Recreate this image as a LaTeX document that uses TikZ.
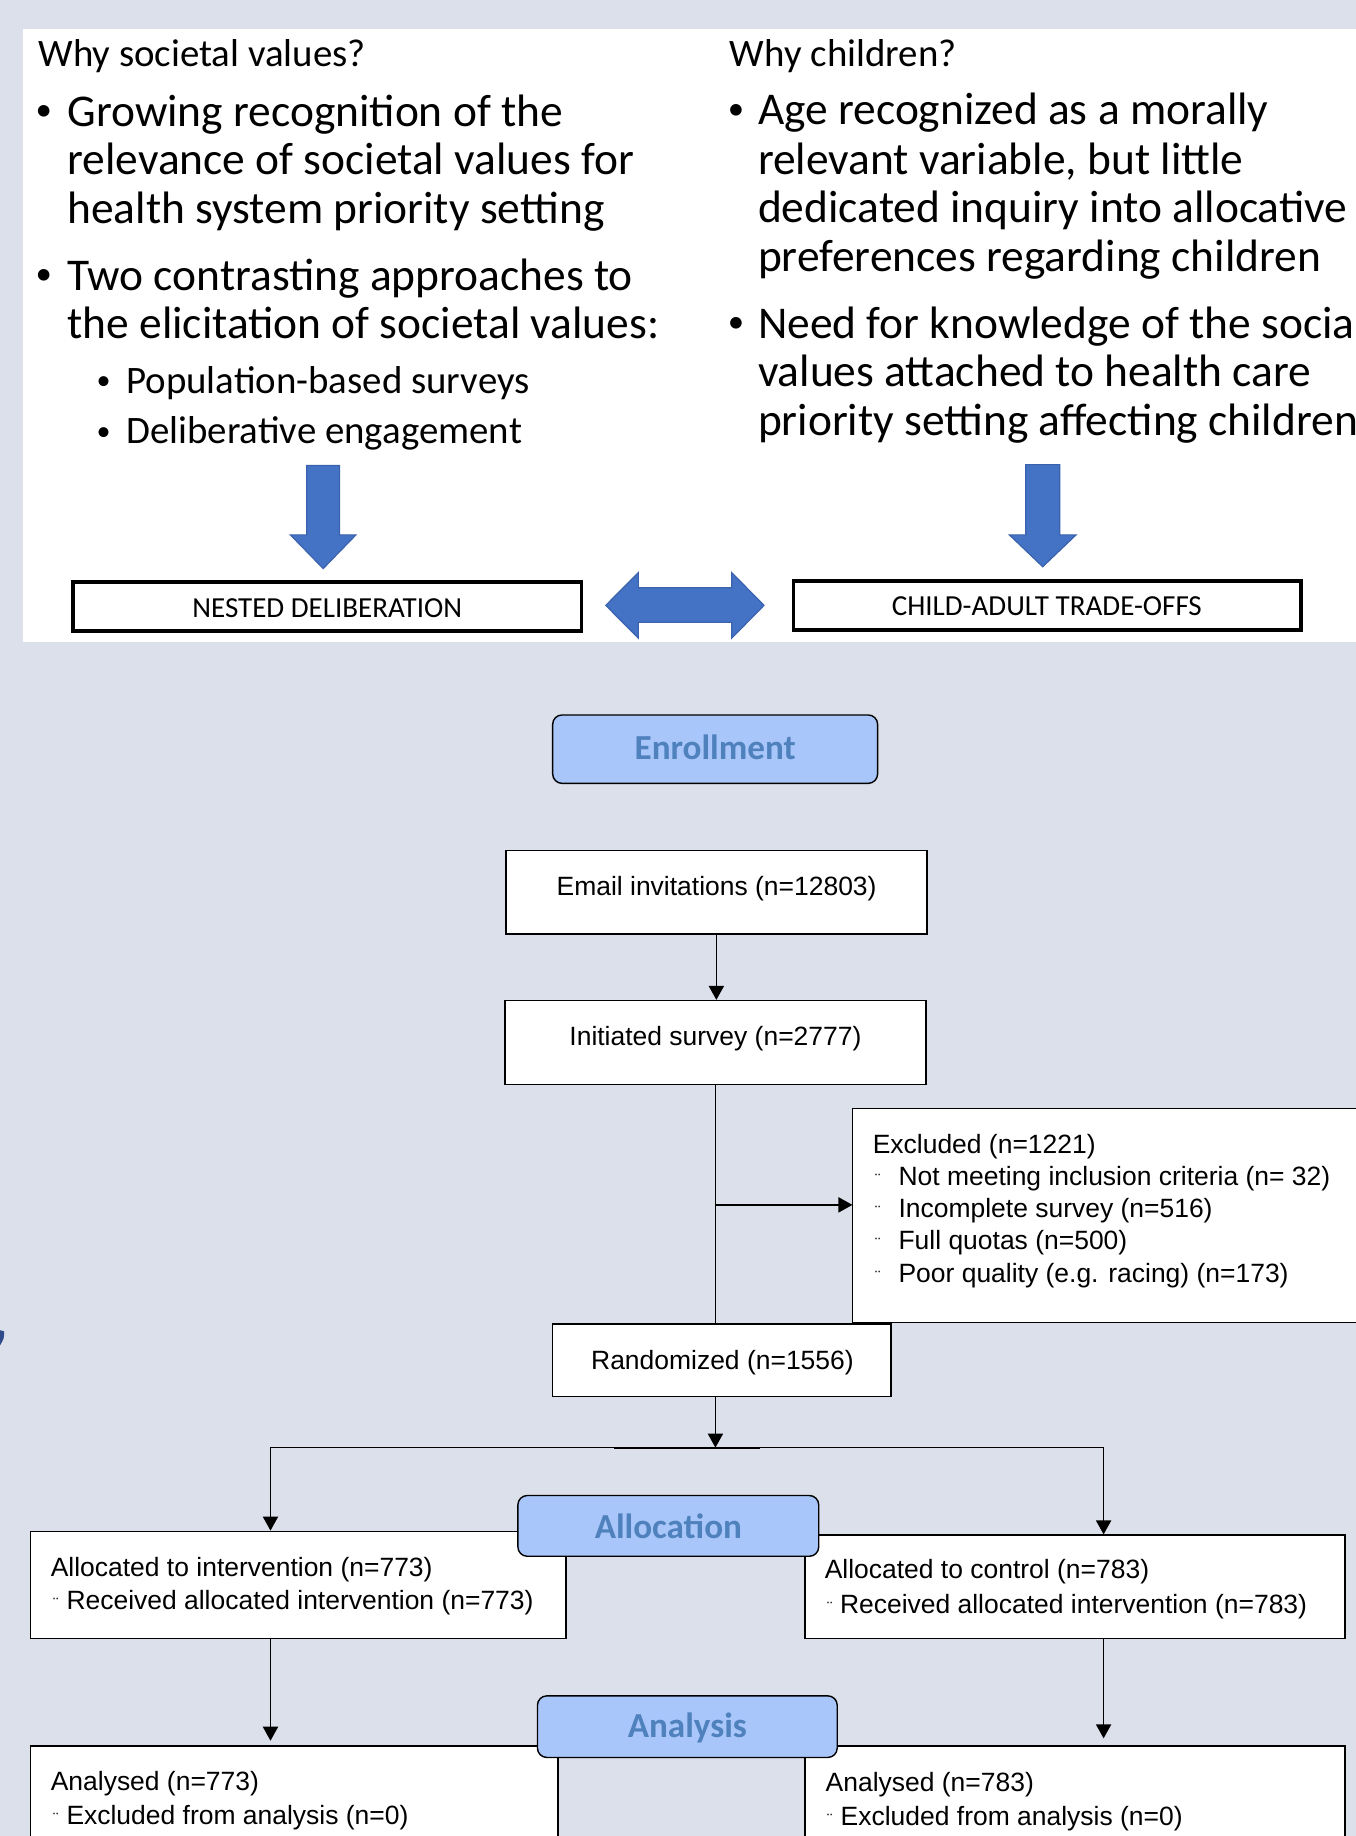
\documentclass[tikz,border=0pt]{standalone}
\usepackage{fontspec}
\setmainfont{Liberation Sans}
\newfontfamily\calfont{Carlito}
\usetikzlibrary{arrows.meta,fit}
\definecolor{bg}{RGB}{220,224,234}
\definecolor{lblfill}{RGB}{168,198,250}
\definecolor{lbltext}{RGB}{79,129,189}
\definecolor{arrblue}{RGB}{68,114,196}
\definecolor{arredge}{RGB}{58,98,173}
\definecolor{markblue}{RGB}{47,75,140}
\begin{document}
\begin{tikzpicture}[x=0.5pt,y=-0.5pt,
  bx/.style={draw=black, line width=0.6pt, fill=white, inner sep=0pt},
  tbx/.style={draw=black, line width=1.5pt, fill=white, inner sep=0pt},
  lbl/.style={draw=black, line width=0.6pt, fill=lblfill, rounded corners=4pt, inner sep=0pt},
  lbltxt/.style={font=\calfont\bfseries\fontsize{15}{18}\selectfont, text=lbltext, anchor=base, inner sep=0pt},
  txta/.style={font=\fontsize{11.3}{13}\selectfont, anchor=base west, inner sep=0pt},
  txtc/.style={font=\fontsize{11.3}{13}\selectfont, anchor=base, inner sep=0pt},
  dia/.style={font=\fontsize{7}{8}\selectfont, anchor=base west, inner sep=0pt},
  bigt/.style={font=\calfont\fontsize{19.4}{23}\selectfont, anchor=base west, inner sep=0pt},
  bigb/.style={font=\calfont\fontsize{14}{17}\selectfont, anchor=base, inner sep=0pt},
  medt/.style={font=\calfont\fontsize{16.6}{20}\selectfont, anchor=base west, inner sep=0pt},
  medb/.style={font=\calfont\fontsize{12}{15}\selectfont, anchor=base, inner sep=0pt},
  boxt/.style={font=\calfont\fontsize{12.4}{15}\selectfont, anchor=base, inner sep=0pt},
  conn/.style={line width=0.6pt, -{Triangle[width=6.5pt,length=6pt]}},
  wire/.style={line width=0.6pt},
  barrow/.style={fill=arrblue, draw=arredge, line width=0.5pt}
]
\useasboundingbox (0,0) rectangle (1158,1568);
\clip (0,0) rectangle (1158,1568);
\fill[bg] (0,0) rectangle (1158,1568);
% ---------- top panel ----------
\fill[white] (20,24.5) rectangle (1170,548.5);
\node[medt] (hl) at (32.4,56.5) {Why societal values?};
\node[bigb] (bl1) at (37.5,103) {•};
\node[bigt] (l1) at (57.2,107.9) {Growing recognition of the};
\node[bigt] (l2) at (57.2,149) {relevance of societal values for};
\node[bigt] (l3) at (57.2,190.5) {health system priority setting};
\node[bigb] (bl2) at (37.5,243) {•};
\node[bigt] (l4) at (57.2,248) {Two contrasting approaches to};
\node[bigt] (l5) at (57.2,289.5) {the elicitation of societal values:};
\node[medb] (sb1) at (88.5,333) {•};
\node[medt] (s1) at (107.5,336) {Population-based surveys};
\node[medb] (sb2) at (88.5,376) {•};
\node[medt] (s2) at (107.5,379) {Deliberative engagement};

\node[medt] (hr) at (623,56.4) {Why children?};
\node[bigb] (br1) at (628.5,101.7) {•};
\node[bigt] (r1) at (647,106.7) {Age recognized as a morally};
\node[bigt] (r2) at (647,148.8) {relevant variable, but little};
\node[bigt] (r3) at (647,190) {dedicated inquiry into allocative};
\node[bigt] (r4) at (647,231.6) {preferences regarding children};
\node[bigb] (br2) at (628.5,284) {•};
\node[bigt] (r5) at (647,289) {Need for knowledge of the socia};
\node[bigt] (r6) at (647,330.5) {values attached to health care};
\node[bigt] (r7) at (647,372) {priority setting affecting children};

% blue block arrows
\draw[barrow] (262,397.5) -- (290,397.5) -- (290,456.8) -- (304,456.8) -- (276,485.6) -- (248,456.8) -- (262,456.8) -- cycle;
\draw[barrow] (876,396.8) -- (905,396.8) -- (905,456.8) -- (919,456.8) -- (890.5,484) -- (862,456.8) -- (876,456.8) -- cycle;
\draw[barrow] (517.3,517) -- (545.2,489) -- (545.2,502) -- (624.9,502) -- (624.9,489) -- (652.5,517) -- (624.9,545) -- (624.9,531.5) -- (545.2,531.5) -- (545.2,545) -- cycle;

\node[tbx, fit={(62.5,497.1) (496.8,538.9)}] (nd) {};
\node[boxt] (ndt) at (279.5,527) {NESTED DELIBERATION};
\node[tbx, fit={(677.7,496.4) (1110.9,538.1)}] (ca) {};
\node[boxt] (cat) at (894,526) {CHILD-ADULT TRADE-OFFS};

% ---------- flowchart ----------
\node[bx, fit={(432,726.5) (791.6,797.6)}] (email) {};
\node[txtc] (emailt) at (612,765) {Email invitations (n=12803)};
\node[bx, fit={(431.3,854.5) (790.8,926)}] (init) {};
\node[txtc] (initt) at (611,893) {Initiated survey (n=2777)};
\node[bx, fit={(728,946.5) (1175,1129.5)}] (excl) {};
\node[txta] (ex0) at (745,985) {Excluded (n=1221)};
\node[dia] (exd1) at (747,1012.5) {¨};
\node[txta] (ex1) at (767,1012.5) {Not meeting inclusion criteria (n= 32)};
\node[dia] (exd2) at (747,1040) {¨};
\node[txta] (ex2) at (767,1040) {Incomplete survey (n=516)};
\node[dia] (exd3) at (747,1067.5) {¨};
\node[txta] (ex3) at (767,1067.5) {Full quotas (n=500)};
\node[dia] (exd4) at (747,1095) {¨};
\node[txta] (ex4) at (767,1095) {Poor quality (e.g. racing) (n=173)};
\node[bx, fit={(472,1130.7) (761,1192.8)}] (rand) {};
\node[txtc] (randt) at (617,1170) {Randomized (n=1556)};

\node[bx, fit={(26,1307.8) (483.4,1399.2)}] (allocI) {};
\node[txta] (aI1) at (43,1346) {Allocated to intervention (n=773)};
\node[dia] (aId) at (45,1374.4) {¨};
\node[txta] (aI2) at (56.4,1374.4) {Received allocated intervention (n=773)};
\node[bx, fit={(687.5,1311) (1148.6,1399.2)}] (allocC) {};
\node[txta] (aC1) at (704,1348) {Allocated to control (n=783)};
\node[dia] (aCd) at (706,1378) {¨};
\node[txta] (aC2) at (717,1378) {Received allocated intervention (n=783)};

\node[bx, fit={(26,1491.2) (476.6,1610)}] (anaL) {};
\node[txta] (nL1) at (43,1529) {Analysed (n=773)};
\node[dia] (nLd) at (45,1558.3) {¨};
\node[txta] (nL2) at (56.4,1558.3) {Excluded from analysis (n=0)};
\node[bx, fit={(687.5,1491.2) (1148.6,1610)}] (anaR) {};
\node[txta] (nR1) at (704.8,1529.7) {Analysed (n=783)};
\node[dia] (nRd) at (706,1559) {¨};
\node[txta] (nR2) at (717.6,1559) {Excluded from analysis (n=0)};

% phase labels
\node[lbl, fit={(472,610.6) (749.5,669)}] (enr) {};
\node[lbltxt] (enrt) at (610.8,649) {Enrollment};
\node[lbl, fit={(442.3,1277.2) (699.2,1329.1)}] (alloc) {};
\node[lbltxt] (alloct) at (570.8,1313.7) {Allocation};
\node[lbl, fit={(459,1448.3) (715,1500.9)}] (anal) {};
\node[lbltxt] (analt) at (587,1484) {Analysis};

% connectors
\coordinate (exin) at (728,1029);
\coordinate (split) at (611,1236.3);
\coordinate (splitL) at (231,1236.3);
\coordinate (splitR) at (942.5,1236.3);
\draw[conn] (email.south) -- (email.south |- init.north);
\draw[wire] (init.south) -- (init.south |- rand.north);
\draw[conn] (init.south |- exin) -- (exin);
\draw[conn] (split |- rand.south) -- (split);
\draw[wire] (splitL) -- (splitR);
\draw[line width=0.9pt] (524,1236.3) -- (648.8,1236.3);
\draw[conn] (splitL) -- (splitL |- allocI.north);
\draw[conn] (splitR) -- (splitR |- allocC.north);
\draw[conn, shorten >=2pt] (allocI.south -| splitL) -- (splitL |- anaL.north);
\draw[conn, shorten >=3pt] (allocC.south -| splitR) -- (splitR |- anaR.north);

% small mark at left edge
\fill[markblue] (0,1136) -- (3.5,1137) .. controls (3.5,1143) .. (0,1149) -- cycle;
\end{tikzpicture}
\end{document}
